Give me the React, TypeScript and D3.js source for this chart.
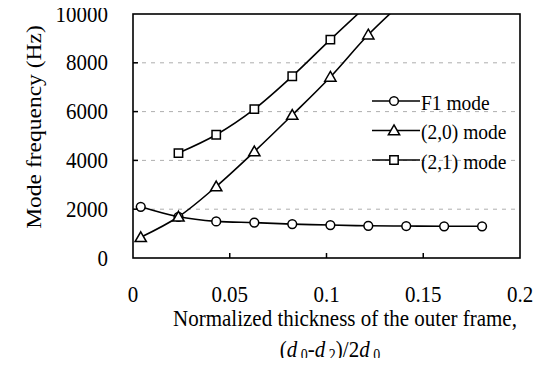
import React, { useEffect, useRef } from "react";
import * as d3 from "d3";

// thickness values (x) shared by all series
const xVals = [0.004, 0.0235, 0.043, 0.0627, 0.0823, 0.102, 0.1216, 0.1412, 0.1608, 0.1804];

// F1 mode frequency (Hz)
const f1Mode = [2100, 1690, 1500, 1450, 1390, 1350, 1320, 1310, 1300, 1300];
// (2,0) mode - last one runs past the top of the chart
const mode20 = [850, 1690, 2930, 4360, 5860, 7420, 9150, 10620];
// (2,1) mode starts at the second thickness, last one runs off the top
const mode21 = [4300, 5050, 6100, 7450, 8950, 10400];

const xTicks = [0, 0.05, 0.1, 0.15, 0.2];
const yTicks = [0, 2000, 4000, 6000, 8000, 10000];
const gridVals = [2000, 4000, 6000, 8000];
const legendNames = ["F1 mode", "(2,0) mode", "(2,1) mode"];

export default function App() {
  const svgRef = useRef(null);

  useEffect(() => {
    const W = 543, H = 366;
    const margin = { top: 14, right: 23, bottom: 108, left: 133 };
    const width = W - margin.left - margin.right;
    const height = H - margin.top - margin.bottom;
    const font = "Liberation Serif, Times New Roman, serif";
    const stretch = 1.12; // the scan is a bit taller than wide

    const svg = d3.select(svgRef.current)
      .attr("width", W)
      .attr("height", H)
      .attr("font-family", font)
      .style("display", "block")
      .style("background", "#fff");

    // text helper, stretched vertically like the original
    const txt = (parent, x, y, str, size, anchor = "start", rot = 0) =>
      parent.append("text")
        .attr("transform", `translate(${x},${y}) scale(1,${stretch})${rot ? ` rotate(${rot})` : ""}`)
        .attr("text-anchor", anchor)
        .attr("font-size", size)
        .attr("fill", "#000")
        .text(str);

    const g = svg.append("g")
      .attr("transform", `translate(${margin.left},${margin.top})`);

    const x = d3.scaleLinear().domain([0, 0.2]).range([0, width]);
    const y = d3.scaleLinear().domain([0, 10000]).range([height, 0]);

    svg.append("defs").append("clipPath").attr("id", "plotclip")
      .append("rect").attr("x", 0).attr("y", 0).attr("width", width).attr("height", height);

    // dashed grid
    g.selectAll(".grid").data(gridVals).enter().append("line")
      .attr("x1", 0).attr("x2", width)
      .attr("y1", d => y(d)).attr("y2", d => y(d))
      .attr("stroke", "#999").attr("stroke-width", 0.8)
      .attr("stroke-dasharray", "4,5");

    // series
    const s1 = xVals.map((xv, i) => ({ x: xv, y: f1Mode[i] }));
    const s2 = mode20.map((v, i) => ({ x: xVals[i], y: v }));
    const s3 = mode21.map((v, i) => ({ x: xVals[i + 1], y: v }));

    const line = d3.line<any>()
      .x(d => x(d.x)).y(d => y(d.y))
      .curve(d3.curveCatmullRom.alpha(0.5));

    const plot = g.append("g").attr("clip-path", "url(#plotclip)");
    [s1, s2, s3].forEach(s => {
      plot.append("path").datum(s)
        .attr("d", line)
        .attr("fill", "none").attr("stroke", "#000").attr("stroke-width", 1.6);
    });

    const circleSym = d3.symbol().type(d3.symbolCircle).size(60);
    const triSym = d3.symbol().type(d3.symbolTriangle).size(55);
    const sqSym = d3.symbol().type(d3.symbolSquare).size(70);

    const drawMarks = (sel, data, sym, dy = 0) => {
      sel.selectAll(null).data(data).enter().append("path")
        .attr("d", sym)
        .attr("transform", d => `translate(${x(d.x)},${y(d.y) + dy})`)
        .attr("fill", "#fff").attr("stroke", "#000").attr("stroke-width", 1.5);
    };
    drawMarks(plot, s1, circleSym);
    drawMarks(plot, s2, triSym, 1);
    drawMarks(plot, s3, sqSym);

    // frame
    g.append("rect")
      .attr("x", 0).attr("y", 0).attr("width", width).attr("height", height)
      .attr("fill", "none").attr("stroke", "#000").attr("stroke-width", 1.6);

    // inner ticks
    g.selectAll(".xt").data(xTicks.slice(1, -1)).enter().append("line")
      .attr("x1", d => x(d)).attr("x2", d => x(d))
      .attr("y1", height).attr("y2", height - 5)
      .attr("stroke", "#000").attr("stroke-width", 1.5);
    g.selectAll(".yt").data(yTicks.slice(1, -1)).enter().append("line")
      .attr("x1", 0).attr("x2", 5)
      .attr("y1", d => y(d)).attr("y2", d => y(d))
      .attr("stroke", "#000").attr("stroke-width", 1.5);

    // tick labels
    xTicks.forEach(d => txt(g, x(d), height + 44, d3.format("")(d), 21, "middle"));
    yTicks.forEach(d => txt(g, -25, y(d) + 7.5, String(d), 21, "end"));

    // axis titles
    txt(svg, 345, 326, "Normalized thickness of the outer frame,", 21, "middle");
    const t2 = txt(svg, 330, 357, "", 21, "middle");
    t2.append("tspan").text("(");
    t2.append("tspan").attr("font-style", "italic").text("d");
    t2.append("tspan").attr("dy", 3).attr("font-size", 14).text(" 0");
    t2.append("tspan").attr("dy", -3).text("-");
    t2.append("tspan").attr("font-style", "italic").text("d");
    t2.append("tspan").attr("dy", 3).attr("font-size", 14).text(" 2");
    t2.append("tspan").attr("dy", -3).text(")/2");
    t2.append("tspan").attr("font-style", "italic").text("d");
    t2.append("tspan").attr("dy", 3).attr("font-size", 14).text(" 0");

    txt(svg, 41, 127, "Mode frequency (Hz)", 21, "middle", -90);

    // legend
    const syms = [circleSym, triSym, sqSym];
    const lg = svg.append("g").attr("transform", "translate(372,101)");
    legendNames.forEach((name, i) => {
      const row = lg.append("g").attr("transform", `translate(0,${i * 29.5})`);
      row.append("line").attr("x1", 0).attr("x2", 48).attr("y1", 0).attr("y2", 0)
        .attr("stroke", "#000").attr("stroke-width", 1.6);
      row.append("path").attr("d", syms[i])
        .attr("transform", `translate(22,${i === 1 ? 1 : 0})`)
        .attr("fill", "#fff").attr("stroke", "#000").attr("stroke-width", 1.5);
      txt(row, 49, 8.5, name, 19.5);
    });

    return () => {
      d3.select(svgRef.current).selectAll("*").remove();
    };
  }, []);

  return (
    <div style={{ margin: -8 }}>
      <svg ref={svgRef}></svg>
    </div>
  );
}
